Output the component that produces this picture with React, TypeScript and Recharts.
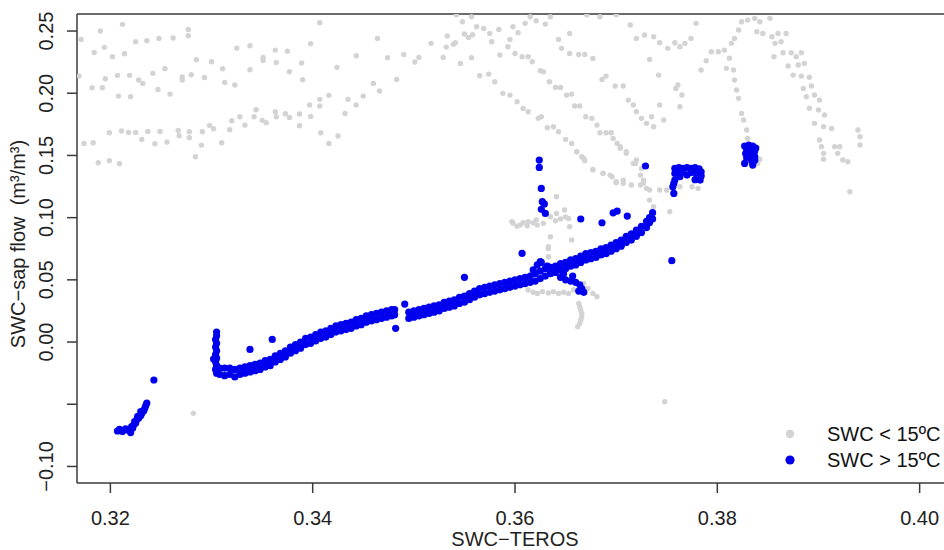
import React from 'react';
import {
  ScatterChart,
  Scatter,
  XAxis,
  YAxis,
  ReferenceLine,
  Legend
} from 'recharts';

// x = SWC-TEROS, y = SWC - sap flow (m3/m3)
const xTicks = [0.32, 0.34, 0.36, 0.38, 0.4];
const yTicks = [-0.1, -0.05, 0, 0.05, 0.1, 0.15, 0.2, 0.25];
const xDomain = [0.3167, 0.4032];
const yDomain = [-0.1133, 0.2637];

const seriesNames = ['SWC < 15ºC', 'SWC > 15ºC'];

// ---- SWC < 15ºC (grey) ----
const grayLeftCloud = [
  [0.3171, 0.2433], [0.3169, 0.2138], [0.3174, 0.1597], [0.3183, 0.1602], [0.3184, 0.2328],
  [0.3182, 0.2044], [0.3192, 0.2044], [0.319, 0.25], [0.3188, 0.1441], [0.3194, 0.2369],
  [0.3195, 0.2117], [0.3199, 0.1683], [0.3199, 0.1457], [0.3202, 0.2294], [0.3207, 0.2144],
  [0.3208, 0.1977], [0.3209, 0.1433], [0.3212, 0.2554], [0.3214, 0.2318], [0.3211, 0.1696],
  [0.3219, 0.2144], [0.322, 0.1972], [0.3218, 0.1685], [0.3225, 0.1685], [0.3225, 0.2414],
  [0.3228, 0.2106], [0.3232, 0.2079], [0.3231, 0.1629], [0.3236, 0.2422], [0.3237, 0.1693],
  [0.3242, 0.216], [0.3244, 0.1594], [0.3247, 0.2031], [0.3248, 0.2441], [0.3249, 0.1693],
  [0.3254, 0.2197], [0.3256, 0.1608], [0.3259, 0.1993], [0.3262, 0.2444], [0.3267, 0.1701],
  [0.3268, 0.1658], [0.3271, 0.2106], [0.3271, 0.213], [0.3277, 0.2513], [0.3277, 0.2462],
  [0.3278, 0.1691], [0.3278, 0.1642], [0.328, 0.2149], [0.3284, 0.149], [0.3285, 0.227],
  [0.329, 0.1583], [0.3291, 0.1691], [0.3293, 0.2127], [0.3298, 0.1742], [0.3302, 0.1715],
  [0.33, 0.2253], [0.331, 0.1602], [0.3311, 0.2197], [0.3313, 0.2087], [0.3318, 0.1707],
  [0.332, 0.1779], [0.3323, 0.2066], [0.3325, 0.2363], [0.3328, 0.1811], [0.3333, 0.1744],
  [0.3338, 0.2189], [0.3338, 0.2382], [0.3344, 0.1867], [0.3342, 0.1811], [0.3351, 0.2264],
  [0.3351, 0.2288], [0.335, 0.1782], [0.3354, 0.1763], [0.3363, 0.2347], [0.3364, 0.2248],
  [0.3363, 0.1851], [0.3364, 0.1811], [0.3373, 0.1835], [0.3377, 0.1806], [0.3375, 0.2337],
  [0.3377, 0.2173], [0.3387, 0.1739], [0.3387, 0.1833], [0.3389, 0.2243], [0.339, 0.2109],
  [0.3398, 0.2398], [0.3397, 0.1905], [0.3398, 0.1814], [0.3407, 0.2567], [0.3407, 0.1951],
  [0.3407, 0.1897], [0.3408, 0.1683], [0.3416, 0.1983], [0.3416, 0.1597], [0.3424, 0.2208],
  [0.3425, 0.1656], [0.3432, 0.1838], [0.3435, 0.1951], [0.3443, 0.1905], [0.3443, 0.2302],
  [0.345, 0.1977], [0.346, 0.2079], [0.3466, 0.2018], [0.3464, 0.2441], [0.3474, 0.2286],
  [0.3483, 0.2111], [0.349, 0.2312], [0.3501, 0.2251], [0.3505, 0.2288], [0.3517, 0.2401],
  [0.3529, 0.2288], [0.3532, 0.2371], [0.3533, 0.246], [0.3539, 0.2393], [0.3541, 0.2406],
  [0.3542, 0.263], [0.3548, 0.2575], [0.3557, 0.2615], [0.3562, 0.2535], [0.3546, 0.224],
  [0.355, 0.2476], [0.3554, 0.2449], [0.3557, 0.2286], [0.3558, 0.247], [0.3565, 0.2141]
];

const grayMidLines = [
  [0.3569, 0.2521], [0.3575, 0.2481], [0.3577, 0.2414], [0.3584, 0.2513], [0.3595, 0.2433],
  [0.3598, 0.2535], [0.3603, 0.2487], [0.361, 0.2562], [0.3615, 0.2615], [0.3621, 0.2583],
  [0.363, 0.2556], [0.3635, 0.2615], [0.3574, 0.2154], [0.358, 0.2093], [0.3585, 0.2307],
  [0.3593, 0.2374], [0.36, 0.232], [0.3607, 0.2294], [0.3613, 0.2294], [0.3617, 0.2253],
  [0.3625, 0.2181], [0.3628, 0.2173], [0.3634, 0.2093], [0.364, 0.2047], [0.3645, 0.2047],
  [0.3643, 0.2433], [0.3646, 0.2361], [0.3654, 0.2481], [0.3654, 0.232], [0.3663, 0.2312],
  [0.3669, 0.2312], [0.3677, 0.228], [0.3684, 0.2615], [0.3651, 0.1985], [0.3656, 0.1993],
  [0.3659, 0.1897], [0.3664, 0.1897], [0.367, 0.1811], [0.3676, 0.1798], [0.3681, 0.1744],
  [0.3684, 0.1683], [0.369, 0.1683], [0.3695, 0.1683], [0.3697, 0.1637], [0.3701, 0.1597],
  [0.3704, 0.1557], [0.3686, 0.2111], [0.369, 0.2138], [0.3699, 0.2058], [0.3588, 0.1999],
  [0.3595, 0.1985], [0.3602, 0.1932], [0.3608, 0.1878], [0.3613, 0.1851], [0.3623, 0.1798],
  [0.3626, 0.1811], [0.3632, 0.1723], [0.3638, 0.1731], [0.3643, 0.1691], [0.365, 0.1629],
  [0.3656, 0.1597], [0.3661, 0.153], [0.3666, 0.149], [0.3669, 0.1458], [0.3677, 0.1388],
  [0.3687, 0.1356], [0.3696, 0.1329], [0.37, 0.1281], [0.3671, 0.263], [0.37, 0.263],
  [0.3641, 0.1168]
];

const grayRightArcs = [
  [0.3714, 0.2548], [0.372, 0.2441], [0.3728, 0.2468], [0.3737, 0.2454], [0.3743, 0.2406],
  [0.3751, 0.2361], [0.3758, 0.2406], [0.3763, 0.2374], [0.3768, 0.2401], [0.3774, 0.2441],
  [0.3779, 0.2562], [0.3733, 0.2272], [0.3742, 0.2146], [0.3707, 0.2058], [0.3761, 0.2066],
  [0.3759, 0.2039], [0.3765, 0.1986], [0.3763, 0.1892], [0.3743, 0.1905], [0.3735, 0.1811],
  [0.3747, 0.1785], [0.3712, 0.1945], [0.3717, 0.1905], [0.372, 0.1851], [0.3725, 0.1798],
  [0.373, 0.1758], [0.3737, 0.1731], [0.3704, 0.157], [0.371, 0.153], [0.3717, 0.1436],
  [0.3784, 0.2187], [0.3789, 0.2262], [0.3794, 0.2334], [0.3801, 0.2334], [0.3807, 0.2347],
  [0.3812, 0.2281], [0.3814, 0.2401], [0.3817, 0.2441], [0.3821, 0.2508], [0.3824, 0.2575],
  [0.383, 0.2588], [0.3837, 0.2602], [0.3842, 0.2575], [0.3852, 0.2602], [0.3809, 0.22],
  [0.3816, 0.2187], [0.3817, 0.2106], [0.3819, 0.2026], [0.3821, 0.1959], [0.3824, 0.1838],
  [0.3826, 0.1785], [0.3829, 0.1704], [0.383, 0.1637],
  [0.3839, 0.2495], [0.3845, 0.2481], [0.3854, 0.2454], [0.386, 0.2481], [0.3868, 0.2481],
  [0.3857, 0.2401], [0.3863, 0.2414], [0.3856, 0.2294], [0.3865, 0.2326], [0.3873, 0.2326],
  [0.3883, 0.2326], [0.3878, 0.2294], [0.387, 0.2219], [0.388, 0.2227], [0.3886, 0.224],
  [0.3875, 0.2146], [0.3883, 0.2138], [0.3891, 0.2128], [0.3885, 0.2039], [0.3893, 0.2058],
  [0.3888, 0.1972], [0.3896, 0.1986], [0.3901, 0.1945], [0.3891, 0.1879], [0.39, 0.1865],
  [0.3906, 0.1825], [0.3896, 0.1758], [0.3905, 0.1731], [0.3913, 0.1717], [0.3901, 0.1624],
  [0.3903, 0.157], [0.3905, 0.1517], [0.3905, 0.1469], [0.3916, 0.157], [0.3919, 0.1517],
  [0.3924, 0.1463], [0.3929, 0.1449], [0.3921, 0.157], [0.3939, 0.1704], [0.3941, 0.1651],
  [0.3941, 0.1584], [0.3931, 0.1208],
  [0.3661, 0.153], [0.3668, 0.1476], [0.3677, 0.1383], [0.3687, 0.1356], [0.3694, 0.1342],
  [0.37, 0.1289], [0.3707, 0.1276], [0.3715, 0.1262], [0.3724, 0.1342], [0.3727, 0.1276],
  [0.3733, 0.1222], [0.3743, 0.1222], [0.3733, 0.1141], [0.3737, 0.1088], [0.3753, 0.1047],
  [0.371, 0.1517], [0.372, 0.1463], [0.3725, 0.1396], [0.3707, 0.1302], [0.3724, 0.1262],
  [0.373, 0.1235], [0.375, 0.1222], [0.3719, 0.1436], [0.3727, 0.1302], [0.3763, 0.1248],
  [0.3775, 0.1248], [0.3781, 0.1235], [0.384, 0.1436], [0.3842, 0.147]
];

const grayNearLine = [
  [0.3597, 0.0967], [0.3605, 0.094], [0.3613, 0.0967], [0.3621, 0.0981], [0.3628, 0.0954],
  [0.3635, 0.1007], [0.3641, 0.1034], [0.3649, 0.1061], [0.3653, 0.0994], [0.3654, 0.0927],
  [0.3656, 0.082], [0.3635, 0.0847], [0.3633, 0.0766], [0.3633, 0.0686], [0.3631, 0.0619],
  [0.3598, 0.0955], [0.3602, 0.093], [0.3608, 0.096], [0.3612, 0.0935], [0.3618, 0.0958],
  [0.3622, 0.094], [0.364, 0.0975], [0.3645, 0.099], [0.365, 0.1005], [0.3633, 0.0752],
  [0.3613, 0.0418], [0.3618, 0.04], [0.3622, 0.0391], [0.3627, 0.0405], [0.3633, 0.0395],
  [0.3638, 0.0405], [0.3643, 0.0391], [0.3648, 0.04], [0.3653, 0.0391], [0.3658, 0.042],
  [0.3668, 0.0472], [0.3672, 0.043], [0.3677, 0.0391], [0.3681, 0.0364], [0.3663, 0.0311],
  [0.3664, 0.0284], [0.3665, 0.0257], [0.3666, 0.023], [0.3666, 0.0204], [0.3665, 0.0177],
  [0.3664, 0.015], [0.3662, 0.0123], [0.3282, -0.0573], [0.3748, -0.048]
];

// ---- SWC > 15ºC (blue) ----
const blueLowerLeft = [
  [0.3207, -0.0715], [0.3209, -0.0702], [0.3212, -0.072], [0.3215, -0.0698], [0.3218, -0.0708],
  [0.322, -0.0728], [0.3221, -0.068], [0.3222, -0.0692], [0.3223, -0.0667], [0.3224, -0.064],
  [0.3225, -0.065], [0.3226, -0.0625], [0.3227, -0.0598], [0.3228, -0.061], [0.323, -0.059],
  [0.323, -0.056], [0.3231, -0.0573], [0.3233, -0.0553], [0.3234, -0.0533], [0.3235, -0.051],
  [0.3236, -0.049], [0.3243, -0.0305]
];

const blueSpike = [
  [0.3305, 0.008], [0.3305, 0.005], [0.3304, 0.002], [0.3305, -0.001], [0.3304, -0.004],
  [0.3305, -0.007], [0.3304, -0.01], [0.3302, -0.0137], [0.3305, -0.013], [0.3304, -0.016],
  [0.3305, -0.019], [0.3304, -0.022], [0.3305, -0.025]
];

// [x, lower edge, upper edge] of the dense band
const blueBand = [
  [0.3308, -0.026, -0.021], [0.3313, -0.027, -0.021], [0.3318, -0.026, -0.021],
  [0.3323, -0.028, -0.022], [0.3328, -0.026, -0.021], [0.3333, -0.025, -0.02],
  [0.3338, -0.024, -0.019], [0.3343, -0.023, -0.018], [0.3348, -0.022, -0.017],
  [0.3353, -0.02, -0.015], [0.3358, -0.019, -0.014], [0.3363, -0.016, -0.011],
  [0.3368, -0.014, -0.009], [0.3373, -0.012, -0.007], [0.3378, -0.009, -0.004],
  [0.3383, -0.007, -0.002], [0.3388, -0.005, 0.0], [0.3393, -0.002, 0.003],
  [0.3398, -0.001, 0.004], [0.3403, 0.001, 0.006], [0.3408, 0.003, 0.008],
  [0.3413, 0.004, 0.009], [0.3418, 0.006, 0.011], [0.3423, 0.008, 0.013],
  [0.3428, 0.009, 0.014], [0.3433, 0.01, 0.015], [0.3438, 0.011, 0.016],
  [0.3443, 0.013, 0.018], [0.3448, 0.014, 0.019], [0.3453, 0.016, 0.021],
  [0.3458, 0.017, 0.022], [0.3463, 0.018, 0.023], [0.3468, 0.019, 0.024],
  [0.3473, 0.02, 0.025], [0.3478, 0.021, 0.026], [0.3481, 0.022, 0.026],
  [0.3495, 0.019, 0.024], [0.35, 0.02, 0.025], [0.3505, 0.021, 0.026],
  [0.351, 0.022, 0.027], [0.3515, 0.023, 0.028], [0.352, 0.024, 0.029],
  [0.3525, 0.025, 0.03], [0.353, 0.027, 0.032], [0.3535, 0.028, 0.033],
  [0.354, 0.029, 0.034], [0.3545, 0.031, 0.036], [0.355, 0.032, 0.037],
  [0.3555, 0.034, 0.039], [0.356, 0.036, 0.041], [0.3565, 0.038, 0.043],
  [0.357, 0.039, 0.044], [0.3575, 0.04, 0.045], [0.358, 0.041, 0.046],
  [0.3585, 0.042, 0.047], [0.359, 0.043, 0.048], [0.3595, 0.044, 0.049],
  [0.36, 0.045, 0.05], [0.3605, 0.046, 0.051], [0.361, 0.047, 0.052],
  [0.3615, 0.048, 0.053], [0.362, 0.049, 0.055], [0.3625, 0.051, 0.057],
  [0.363, 0.053, 0.059], [0.3635, 0.055, 0.06], [0.364, 0.056, 0.061],
  [0.3645, 0.058, 0.063], [0.365, 0.059, 0.064], [0.3655, 0.061, 0.066],
  [0.366, 0.062, 0.067], [0.3665, 0.064, 0.069], [0.367, 0.066, 0.071],
  [0.3675, 0.067, 0.072], [0.368, 0.068, 0.073], [0.3685, 0.07, 0.075],
  [0.369, 0.071, 0.076], [0.3695, 0.073, 0.078], [0.37, 0.075, 0.08],
  [0.3705, 0.077, 0.082], [0.371, 0.08, 0.085], [0.3715, 0.082, 0.087],
  [0.372, 0.085, 0.09], [0.3725, 0.088, 0.093], [0.373, 0.092, 0.097],
  [0.3733, 0.096, 0.1], [0.3736, 0.099, 0.104]
];

const blueBranch = [
  [0.3622, 0.062], [0.3626, 0.064], [0.3645, 0.052], [0.365, 0.05], [0.3655, 0.049],
  [0.366, 0.048], [0.3664, 0.046], [0.3666, 0.043], [0.3668, 0.04], [0.3663, 0.041],
  [0.3657, 0.053], [0.3648, 0.055], [0.3618, 0.058], [0.3632, 0.061]
];

const blueClusters = [
  [0.3758, 0.1396], [0.3762, 0.1402], [0.3766, 0.1396], [0.377, 0.1402], [0.3774, 0.1396],
  [0.3778, 0.1402], [0.3782, 0.1392], [0.3784, 0.1369], [0.3784, 0.1335], [0.3783, 0.1302],
  [0.3778, 0.1305], [0.3779, 0.1355], [0.3774, 0.1362], [0.377, 0.1342], [0.3766, 0.1365],
  [0.3763, 0.1329], [0.3762, 0.1362], [0.3758, 0.1302], [0.3758, 0.1355], [0.3757, 0.1275],
  [0.3756, 0.1248], [0.3757, 0.1195],
  [0.3827, 0.1575], [0.3831, 0.1584], [0.3835, 0.1575], [0.3838, 0.156], [0.3829, 0.1545],
  [0.3833, 0.1545], [0.3837, 0.1535], [0.3828, 0.1515], [0.3832, 0.1517], [0.3837, 0.149],
  [0.3833, 0.1488], [0.3829, 0.148], [0.3834, 0.1455], [0.3837, 0.1462], [0.3835, 0.1423],
  [0.3827, 0.1436]
];

const blueOutliers = [
  [0.3338, -0.0059], [0.336, 0.0021], [0.3482, 0.011], [0.3491, 0.0305], [0.355, 0.052],
  [0.3607, 0.0713], [0.3624, 0.1463], [0.3624, 0.1404], [0.3626, 0.1235], [0.3627, 0.1128],
  [0.3629, 0.111], [0.3626, 0.1067], [0.363, 0.1034], [0.3625, 0.0646], [0.3686, 0.0959],
  [0.3697, 0.1039], [0.3701, 0.1053], [0.3711, 0.1013], [0.3665, 0.0989], [0.3729, 0.1415],
  [0.3755, 0.0654]
];

const toPoints = (rows: number[][]) => rows.map(([x, y]) => ({ x, y }));

const grayData = toPoints([...grayLeftCloud, ...grayMidLines, ...grayRightArcs, ...grayNearLine]);
const blueData = toPoints([
  ...blueLowerLeft,
  ...blueSpike,
  ...blueBand.flatMap(([x, lo, hi]) => [[x, lo], [x, hi]]),
  ...blueBranch,
  ...blueClusters,
  ...blueOutliers
]);

const GRAY = '#d3d3d3';
const BLUE = '#0000ee';
const AXIS = '#3a3a3a';
const FONT = '"Liberation Sans", Arial, Helvetica, sans-serif';
const FS = 20;

const GrayDot = (props: any) => <circle cx={props.cx} cy={props.cy} r={2.7} fill={GRAY} />;
const BlueDot = (props: any) => <circle cx={props.cx} cy={props.cy} r={3.6} fill={BLUE} />;

const XTick = ({ x, y, payload }: any) => (
  <text x={x} y={y + 32} textAnchor="middle" fontSize={FS} fill="#222" fontFamily={FONT}>
    {payload.value.toFixed(2)}
  </text>
);

const YTick = ({ x, y, payload }: any) => {
  // R skips the -0.05 label
  if (Math.abs(payload.value + 0.05) < 1e-9) return null;
  const tx = x - 14;
  const label = payload.value < 0 ? '\u2212' + Math.abs(payload.value).toFixed(2) : payload.value.toFixed(2);
  return (
    <text
      x={tx}
      y={y}
      transform={`rotate(-90 ${tx} ${y})`}
      textAnchor="middle"
      fontSize={FS}
      fill="#222"
      fontFamily={FONT}
    >
      {label}
    </text>
  );
};

const renderLegend = (props: any) => {
  const { payload } = props;
  return (
    <svg width={170} height={60} style={{ display: 'block', overflow: 'visible' }}>
      {(payload || []).map((entry: any, i: number) => (
        <g key={entry.value}>
          <circle cx={10} cy={14 + i * 26} r={i === 0 ? 4.2 : 4.6} fill={i === 0 ? GRAY : BLUE} />
          <text x={47} y={21 + i * 26} fontSize={FS} fill="#111" fontFamily={FONT}>
            {entry.value}
          </text>
        </g>
      ))}
    </svg>
  );
};

const App = () => {
  return (
    <div
      style={{
        position: 'absolute',
        left: 0,
        top: 0,
        width: 944,
        height: 550,
        overflow: 'hidden',
        background: '#fff'
      }}
    >
      <ScatterChart width={960} height={550} margin={{ top: 14, right: 8, bottom: 0, left: 0 }}>
        <XAxis
          type="number"
          dataKey="x"
          domain={xDomain}
          ticks={xTicks}
          allowDataOverflow
          tick={XTick}
          tickSize={10}
          tickMargin={0}
          tickLine={{ stroke: AXIS, strokeWidth: 1.5 }}
          axisLine={{ stroke: AXIS, strokeWidth: 1.5 }}
          height={67}
        />
        <YAxis
          type="number"
          dataKey="y"
          domain={yDomain}
          ticks={yTicks}
          allowDataOverflow
          tick={YTick}
          tickSize={10}
          tickMargin={0}
          tickLine={{ stroke: AXIS, strokeWidth: 1.5 }}
          axisLine={{ stroke: AXIS, strokeWidth: 1.5 }}
          width={77}
        />
        <ReferenceLine y={yDomain[1]} stroke={AXIS} strokeWidth={1.5} />
        <Scatter
          name={seriesNames[0]}
          data={grayData}
          fill={GRAY}
          shape={GrayDot}
          isAnimationActive={false}
        />
        <Scatter
          name={seriesNames[1]}
          data={blueData}
          fill={BLUE}
          shape={BlueDot}
          isAnimationActive={false}
        />
        <Legend
          layout="vertical"
          align="center"
          verticalAlign="middle"
          content={renderLegend}
          wrapperStyle={{ position: 'absolute', left: 780, top: 420, width: 170, height: 60 }}
        />
        <text
          x={515}
          y={546}
          textAnchor="middle"
          fontSize={FS}
          fill="#222"
          fontFamily={FONT}
        >
          SWC{'\u2212'}TEROS
        </text>
        <text
          x={25}
          y={244}
          transform="rotate(-90 25 244)"
          textAnchor="middle"
          fontSize={FS}
          fill="#222"
          fontFamily={FONT}
          style={{ whiteSpace: 'pre' }}
        >
          {'SWC\u2212sap flow  (m\u00b3/m\u00b3)'}
        </text>
      </ScatterChart>
    </div>
  );
};

export default App;
